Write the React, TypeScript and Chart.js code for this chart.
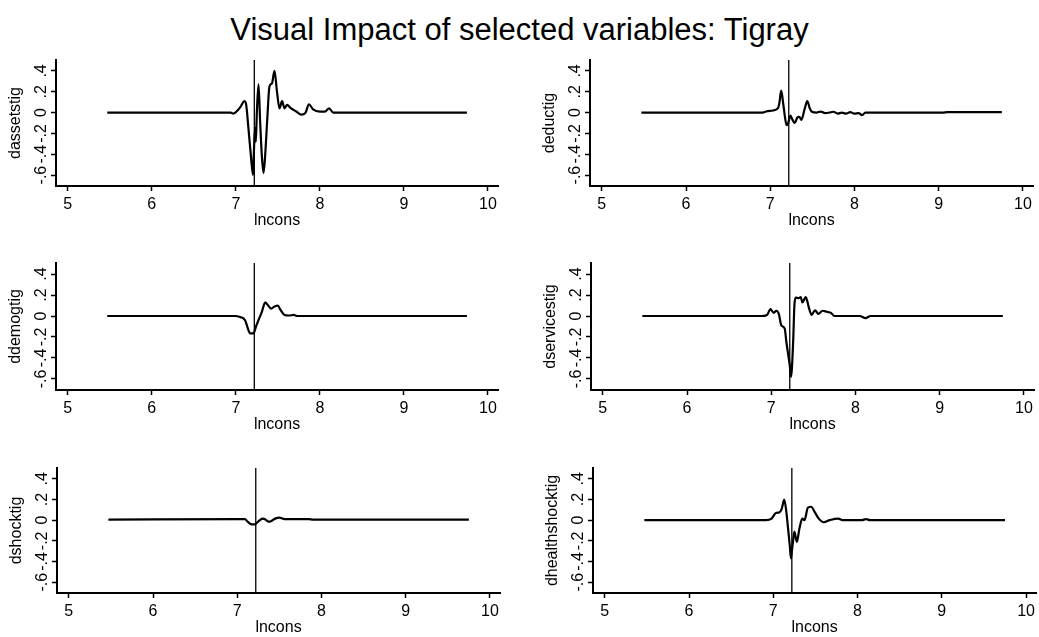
import React, { useEffect, useRef } from "react";
import { Chart, registerables } from "chart.js";

Chart.register(...registerables);

const FONT = "'Liberation Sans', Arial, Helvetica, sans-serif";
Chart.defaults.font.family = FONT;
Chart.defaults.color = "#000";

const TITLE = "Visual Impact of selected variables: Tigray";
const X_TITLE = "lncons";
const X_TICKS = [5, 6, 7, 8, 9, 10];
const Y_TICKS = [-0.6, -0.4, -0.2, 0, 0.2, 0.4];
const Y_TICK_LABELS = ["-.6", "-.4", "-.2", "0", ".2", ".4"];
const X_MIN = 4.86;
const X_MAX = 10.12;
const Y_MIN = -0.705;
const Y_MAX = 0.505;
const XLINE = 7.22;

// dassetstig
const assetX = [5.47, 6.94, 6.97, 7.02, 7.06, 7.1, 7.12, 7.15, 7.18, 7.205, 7.215, 7.228, 7.238, 7.25, 7.27, 7.29, 7.31, 7.33, 7.35, 7.375, 7.4, 7.43, 7.46, 7.49, 7.52, 7.55, 7.58, 7.61, 7.65, 7.72, 7.78, 7.83, 7.87, 7.92, 8.0, 8.06, 8.11, 8.16, 8.2, 9.75];
const assetY = [0, 0, -0.01, 0.02, 0.06, 0.11, 0.09, -0.15, -0.42, -0.6, -0.38, -0.15, -0.28, 0.0, 0.27, -0.1, -0.42, -0.58, -0.4, -0.05, 0.25, 0.28, 0.4, 0.2, 0.04, 0.11, 0.04, 0.075, 0.045, 0.01, -0.02, 0.0, 0.08, 0.03, 0.01, 0.01, 0.04, 0.0, 0.0, 0.0];

// deductig
const educX = [5.47, 6.91, 6.95, 7.03, 7.09, 7.11, 7.13, 7.155, 7.18, 7.195, 7.21, 7.24, 7.265, 7.29, 7.32, 7.345, 7.37, 7.41, 7.44, 7.47, 7.5, 7.55, 7.6, 7.65, 7.7, 7.75, 7.8, 7.85, 7.9, 7.95, 8.0, 8.05, 8.09, 8.13, 9.05, 9.1, 9.75];
const educY = [0, 0, 0.01, 0.02, 0.04, 0.1, 0.21, 0.08, -0.07, -0.12, -0.11, -0.03, -0.07, -0.1, -0.05, -0.04, -0.07, 0.04, 0.11, 0.04, 0.005, 0.0, 0.01, -0.005, 0.0, 0.008, -0.01, 0.0, -0.01, 0.005, -0.01, -0.005, -0.025, 0.0, 0.0, 0.005, 0.005];

// ddemogtig
const demogX = [5.47, 6.99, 7.05, 7.11, 7.15, 7.17, 7.21, 7.24, 7.27, 7.31, 7.35, 7.375, 7.42, 7.46, 7.5, 7.53, 7.58, 7.63, 7.69, 7.73, 9.75];
const demogY = [0, 0, -0.01, -0.04, -0.135, -0.165, -0.165, -0.1, -0.04, 0.04, 0.13, 0.11, 0.07, 0.09, 0.1, 0.06, 0.01, 0.005, 0.01, 0.0, 0.0];

// dservicestig
const serviceX = [5.47, 6.88, 6.95, 6.99, 7.03, 7.06, 7.09, 7.12, 7.16, 7.18, 7.22, 7.235, 7.26, 7.275, 7.29, 7.325, 7.35, 7.37, 7.41, 7.45, 7.48, 7.52, 7.56, 7.61, 7.66, 7.71, 7.75, 8.05, 8.12, 8.18, 9.75];
const serviceY = [0, 0, 0.01, 0.065, 0.03, 0.05, 0.02, -0.09, -0.12, -0.25, -0.47, -0.58, -0.25, 0.1, 0.175, 0.17, 0.18, 0.13, 0.18, 0.07, 0.01, 0.055, 0.02, 0.05, 0.04, 0.03, 0.0, 0.0, -0.02, 0.0, 0.0];

// dshocktig
const shockX = [5.47, 7.05, 7.09, 7.13, 7.17, 7.21, 7.24, 7.27, 7.3, 7.33, 7.37, 7.4, 7.45, 7.5, 7.56, 7.85, 7.9, 9.75];
const shockY = [0.005, 0.01, 0.01, -0.02, -0.04, -0.04, -0.02, 0.0, 0.015, 0.01, -0.015, -0.01, 0.015, 0.025, 0.01, 0.01, 0.005, 0.005];

// dhealthshocktig
const healthX = [5.47, 6.91, 6.98, 7.03, 7.07, 7.1, 7.13, 7.155, 7.175, 7.195, 7.21, 7.22, 7.235, 7.25, 7.28, 7.31, 7.345, 7.37, 7.41, 7.45, 7.49, 7.54, 7.6, 7.67, 7.77, 7.83, 8.05, 8.1, 8.15, 9.75];
const healthY = [0, 0, 0.015, 0.07, 0.075, 0.11, 0.2, 0.08, -0.08, -0.24, -0.37, -0.3, -0.2, -0.11, -0.21, -0.08, 0.015, 0.0, 0.12, 0.13, 0.08, 0.015, -0.02, 0.0, 0.015, 0.0, 0.0, 0.01, 0.0, 0.0];

type PanelCfg = {
  name: string;
  xs: number[];
  ys: number[];
  left: number;
  top: number;
  width: number;
  height: number;
  plotLeft: number;
  plotRight: number;
  plotTop: number;
  plotBottom: number;
};

const X_AXIS_H = 44;

const PANELS: PanelCfg[] = [
  { name: "dassetstig", xs: assetX, ys: assetY, left: 0, top: 40, width: 520, height: 200, plotLeft: 56, plotRight: 498, plotTop: 60, plotBottom: 186 },
  { name: "deductig", xs: educX, ys: educY, left: 520, top: 40, width: 519, height: 200, plotLeft: 590, plotRight: 1033, plotTop: 60, plotBottom: 186 },
  { name: "ddemogtig", xs: demogX, ys: demogY, left: 0, top: 243, width: 520, height: 200, plotLeft: 56, plotRight: 498, plotTop: 263, plotBottom: 390 },
  { name: "dservicestig", xs: serviceX, ys: serviceY, left: 520, top: 243, width: 519, height: 200, plotLeft: 591, plotRight: 1034, plotTop: 263, plotBottom: 390 },
  { name: "dshocktig", xs: shockX, ys: shockY, left: 0, top: 448, width: 520, height: 189, plotLeft: 57, plotRight: 500, plotTop: 468, plotBottom: 593 },
  { name: "dhealthshocktig", xs: healthX, ys: healthY, left: 520, top: 448, width: 519, height: 189, plotLeft: 593, plotRight: 1037, plotTop: 468, plotBottom: 593 },
];

const yTickLabelPlugin = {
  id: "yTickLabelsRotated",
  afterDraw(chart: any) {
    const { ctx, chartArea } = chart;
    const y = chart.scales.y;
    ctx.save();
    ctx.font = `16px ${FONT}`;
    ctx.fillStyle = "#000";
    ctx.textAlign = "center";
    ctx.textBaseline = "alphabetic";
    Y_TICKS.forEach((v, i) => {
      const py = y.getPixelForValue(v);
      ctx.save();
      ctx.translate(chartArea.left - 10, py);
      ctx.rotate(-Math.PI / 2);
      ctx.fillText(Y_TICK_LABELS[i], 0, 0);
      ctx.restore();
    });
    ctx.restore();
  },
};

function Panel({ cfg }: { cfg: PanelCfg }) {
  const ref = useRef<HTMLCanvasElement>(null);
  useEffect(() => {
    if (!ref.current) return;
    const points = cfg.xs.map((x, i) => ({ x, y: cfg.ys[i] }));
    const yAxisW = cfg.plotLeft - cfg.left;
    const padT = cfg.plotTop - cfg.top;
    const padR = cfg.left + cfg.width - cfg.plotRight;
    const padB = cfg.top + cfg.height - (cfg.plotBottom + X_AXIS_H);
    const chart = new Chart(ref.current, {
      type: "line",
      data: {
        datasets: [
          {
            data: points,
            borderColor: "#000",
            borderWidth: 2.2,
            pointRadius: 0,
            cubicInterpolationMode: "monotone",
            fill: false,
          },
          {
            data: [
              { x: XLINE, y: Y_MIN },
              { x: XLINE, y: Y_MAX },
            ],
            borderColor: "#000",
            borderWidth: 1.3,
            pointRadius: 0,
            fill: false,
          },
        ],
      },
      options: {
        responsive: false,
        maintainAspectRatio: false,
        animation: false,
        events: [],
        layout: { padding: { left: 0, right: padR, top: padT, bottom: padB } },
        plugins: {
          legend: { display: false },
          tooltip: { enabled: false },
          title: { display: false },
        },
        scales: {
          x: {
            type: "linear",
            min: X_MIN,
            max: X_MAX,
            afterBuildTicks: (s: any) => {
              s.ticks = X_TICKS.map((v) => ({ value: v }));
            },
            afterFit: (s: any) => {
              s.height = X_AXIS_H;
            },
            grid: { drawOnChartArea: false, drawTicks: true, tickLength: 5, tickWidth: 1.5, tickColor: "#000" },
            border: { display: true, color: "#000", width: 2 },
            ticks: {
              color: "#000",
              font: { size: 16 },
              padding: 4,
              maxRotation: 0,
              autoSkip: false,
              callback: (v: any) => String(v),
            },
            title: {
              display: true,
              text: X_TITLE,
              color: "#000",
              font: { size: 16 },
              padding: { top: 0, bottom: 0 },
            },
          },
          y: {
            type: "linear",
            min: Y_MIN,
            max: Y_MAX,
            afterBuildTicks: (s: any) => {
              s.ticks = Y_TICKS.map((v) => ({ value: v }));
            },
            afterFit: (s: any) => {
              s.width = yAxisW;
            },
            grid: { drawOnChartArea: false, drawTicks: true, tickLength: 5, tickWidth: 1.5, tickColor: "#000" },
            border: { display: true, color: "#000", width: 2 },
            ticks: { display: false },
            title: {
              display: true,
              text: cfg.name,
              color: "#000",
              font: { size: 16 },
              padding: { top: yAxisW - 40 - 9.6, bottom: 0 },
            },
          },
        },
      },
      plugins: [yTickLabelPlugin],
    } as any);
    return () => chart.destroy();
  }, [cfg]);
  return (
    <canvas
      ref={ref}
      width={cfg.width}
      height={cfg.height}
      style={{ position: "absolute", left: cfg.left, top: cfg.top, width: cfg.width, height: cfg.height }}
    />
  );
}

export default function App() {
  return (
    <div
      style={{
        position: "absolute",
        left: 0,
        top: 0,
        width: 1039,
        height: 637,
        overflow: "hidden",
        background: "#fff",
      }}
    >
      <div
        style={{
          position: "absolute",
          left: 0,
          top: 14,
          width: 1039,
          textAlign: "center",
          fontFamily: FONT,
          fontSize: 31,
          lineHeight: "31px",
          color: "#000",
          whiteSpace: "nowrap",
        }}
      >
        {TITLE}
      </div>
      {PANELS.map((p) => (
        <Panel key={p.name} cfg={p} />
      ))}
    </div>
  );
}
